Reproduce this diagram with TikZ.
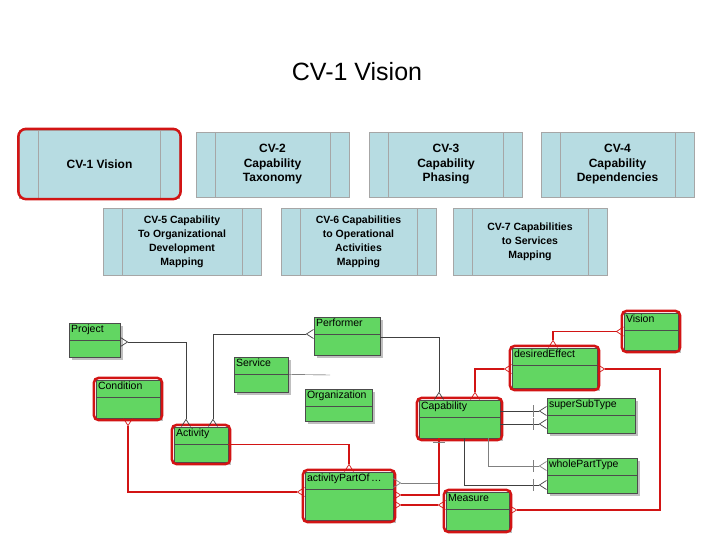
\documentclass[tikz,border=0pt]{standalone}
\usepackage{fontspec}
\setmainfont{Liberation Sans}
\usetikzlibrary{positioning,fit,shadows,arrows.meta}

\tikzset{view/.style =
        {
            rectangle,
            draw=gray!70,
            fill={rgb,255:red,183;green,220;blue,226},
            minimum width=153pt,
            minimum height=65pt,
            align=center,
            font=\fontsize{12}{14.5}\selectfont\bfseries,
            path picture={
                    \draw[gray!70] ([xshift=19pt]path picture bounding box.north west) -- ([xshift=19pt]path picture bounding box.south west);
                    \draw[gray!70] ([xshift=-19pt]path picture bounding box.north east) -- ([xshift=-19pt]path picture bounding box.south east);
                }
        }
}

\tikzset{entity/.style =
        {
            rectangle,
            draw=black!70,
            fill={rgb,255:red,98;green,214;blue,98},
            drop shadow={shadow xshift=3pt, shadow yshift=-3pt, fill=gray!50, opacity=1},
            path picture={
                    \draw[black!70] ([yshift=-17pt]path picture bounding box.north west) -- ([yshift=-17pt]path picture bounding box.north east);
                },
            label={[anchor=north west, inner sep=2pt, font=\fontsize{10.5}{12}\selectfont]north west:#1}
        }
}

\tikzset{hl/.style =
        {
            rectangle,
            rounded corners=5pt,
            draw={rgb,255:red,210;green,20;blue,20},
            line width=2.5pt,
            inner sep=2pt
        }
}

\tikzset{rel/.style = { black!75, thin } }
\tikzset{redrel/.style = { draw={rgb,255:red,210;green,20;blue,20}, line width=1.8pt } }
\tikzset{foot/.tip = {Straight Barb[reversed, length=7pt, width=9pt, line width=0.7pt]}}
\tikzset{crow/.style = { -foot } }
\tikzset{crows/.style = { foot-foot } }

\begin{document}
\begin{tikzpicture}[x=1pt, y=-1pt]
    \useasboundingbox (0,0) rectangle (720,540);

    \node[font=\fontsize{25}{30}\selectfont] (title) at (357,72) {CV-1 Vision};

    % views
    \node[view, minimum width=160pt, minimum height=68pt] (cv1) at (99.5,164) {CV-1 Vision};
    \node[view] (cv2) at (272.5,164.5) {CV-2\\Capability\\Taxonomy};
    \node[view] (cv3) at (446,164.5) {CV-3\\Capability\\Phasing};
    \node[view] (cv4) at (617.5,164.5) {CV-4\\Capability\\Dependencies};
    \node[view, minimum width=158pt, minimum height=67pt, font=\fontsize{10.5}{14}\selectfont\bfseries] (cv5) at (182,241.5) {CV-5 Capability\\To Organizational\\Development\\Mapping};
    \node[view, minimum width=155pt, minimum height=67pt, font=\fontsize{10.5}{14}\selectfont\bfseries] (cv6) at (358.5,241.5) {CV-6 Capabilities\\to Operational\\Activities\\Mapping};
    \node[view, minimum width=154pt, minimum height=67pt, font=\fontsize{10.5}{14}\selectfont\bfseries] (cv7) at (530,241.5) {CV-7 Capabilities\\to Services\\Mapping};
    \node[hl, rounded corners=8pt, inner sep=1pt, fit=(cv1)] (hlcv1) {};

    % entities
    \node[entity=Project, minimum width=51pt, minimum height=34pt] (project) at (94.5,340) {};
    \node[entity=Condition, minimum width=64pt, minimum height=38pt] (condition) at (128,399) {};
    \node[entity=Activity, minimum width=54pt, minimum height=35pt] (activity) at (201,444.5) {};
    \node[entity=Service, minimum width=54pt, minimum height=35pt] (service) at (261,374.5) {};
    \node[entity=Performer, minimum width=66pt, minimum height=38pt] (performer) at (347,336) {};
    \node[entity=Organization, minimum width=67pt, minimum height=32pt] (organization) at (338.5,405) {};
    \node[entity={activityPartOf\,\ldots}, minimum width=88pt, minimum height=48pt] (partof) at (349,496) {};
    \node[entity=Capability, minimum width=81pt, minimum height=38pt] (capability) at (459.5,419) {};
    \node[entity=desiredEffect, minimum width=85pt, minimum height=40pt] (effect) at (554.5,368) {};
    \node[entity=Vision, minimum width=54pt, minimum height=37pt] (vision) at (651,331.5) {};
    \node[entity=superSubType, minimum width=88pt, minimum height=35pt] (supersub) at (591,415.5) {};
    \node[entity=wholePartType, minimum width=90pt, minimum height=35pt] (wholepart) at (592,475.5) {};
    \node[entity=Measure, minimum width=63pt, minimum height=38pt] (measure) at (477.5,511) {};

    \foreach \n in {condition, activity, partof, capability, effect, vision, measure}
    \node[hl, fit=(\n)] (hl-\n) {};

    \coordinate (servicend) at (330,375);

    % black relations
    \draw[rel, crows] (project.east |- 0,342) -| (activity.north -| 186,0);
    \draw[rel, crows] (performer.west |- 0,334) -| (activity.north -| 213,0);
    \draw[rel] (service.east) -- (servicend);
    \draw[rel, crow] (performer.east |- 0,337) -| (capability.north -| 439,0);
    \draw[rel, crow] (capability.east |- 0,411) -- (supersub.west |- 0,411);
    \draw[rel, semithick, crow] (capability.east |- 0,424) -- (supersub.west |- 0,424);
    \draw[rel, gray, crow] (capability.south -| 488,0) |- (wholepart.west |- 0,466);
    \draw[rel, crow] (capability.south -| 464,0) |- (wholepart.west |- 0,485);
    \draw[rel, gray, foot-] (partof.east |- 0,483) -- (439,483);
    \foreach \y in {411,424,466,485}
    \draw[rel, gray] (533,\y-6) -- (533,\y+6);

    % red relations
    \draw[redrel, crows] (condition.south) |- (partof.west |- 0,492);
    \draw[redrel, crow] (activity.east) -| (partof.north);
    \draw[redrel, crows] (effect.west |- 0,369) -| (capability.north -| 475,0);
    \draw[redrel, crows] (effect.north -| 553,0) |- (vision.west);
    \draw[redrel, crows] (effect.east |- 0,369) -- (660,369) |- (measure.east |- 0,510);
    \draw[redrel, crow] (capability.south -| 439,0) |- (partof.east |- 0,495);
    \draw[redrel, crows] (partof.east |- 0,505) -- (measure.west |- 0,505);
    \draw[rel, gray] (433,442) -- (445,442);
\end{tikzpicture}
\end{document}
